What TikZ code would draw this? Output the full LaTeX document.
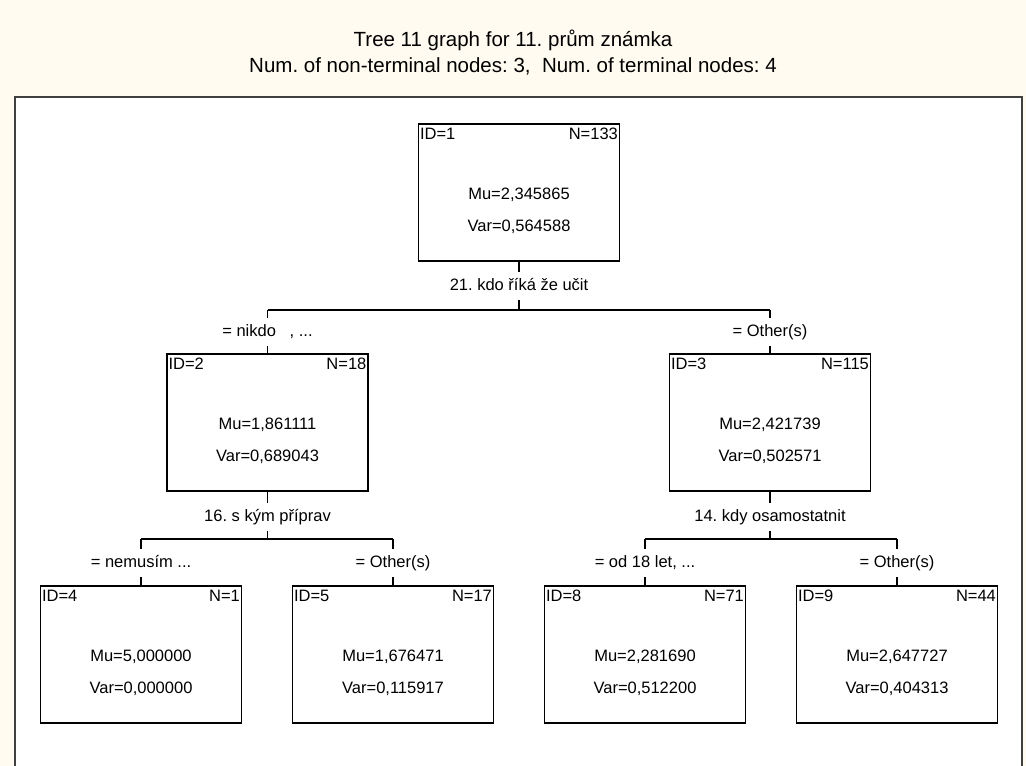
\documentclass[tikz,border=0pt]{standalone}
\usepackage{fontspec}
\setmainfont{Liberation Sans}
\usetikzlibrary{calc,positioning}
\definecolor{cream}{RGB}{255,251,240}
\definecolor{framegray}{RGB}{64,64,64}
\frenchspacing

\begin{document}
\begin{tikzpicture}[
x=1pt, y=-1pt,
box/.style   = {draw, line width=1.2pt, minimum width=201pt,
                minimum height=137pt, inner sep=0pt},
txt/.style   = {font=\fontsize{16.5}{19}\selectfont, inner sep=0pt,
                text height=12pt, text depth=3.5pt},
split/.style = {font=\fontsize{16.5}{19}\selectfont,
                text height=12pt, text depth=3.5pt,
                inner xsep=2pt, inner ysep=6pt},
link/.style  = {draw, line width=1.2pt},
title/.style = {font=\fontsize{20.5}{24}\selectfont, inner sep=0pt},
                    ]
\clip (0,0) rectangle (1026,766);
\fill[cream] (0,0) rectangle (1026,766);
\fill[white] (15,97) rectangle (1022,766);
\draw[framegray, line width=2pt] (15,780) -- (15,97) -- (1022,97) -- (1022,780);

\node[title] (t1) at (513,40) {Tree 11 graph for 11. prům známka};
\node[title] (t2) at (513,66) {Num. of non-terminal nodes: 3,\ \ Num. of terminal nodes: 4};

% boxes
\node[box] (n1) at (519,192.5) {};
\node[box] (n2) at (267.5,422.5) {};
\node[box] (n3) at (770,422.5) {};
\node[box] (n4) at (141,654.5) {};
\node[box] (n5) at (393,654.5) {};
\node[box] (n8) at (645,654.5) {};
\node[box] (n9) at (897,654.5) {};

% box texts
\node[txt,below right=3.5pt and 2pt of n1.north west] (n1id) {ID=1};
\node[txt,below left=3.5pt and 2pt of n1.north east]  (n1n)  {N=133};
\node[txt] (n1mu)  at ($(n1.north)+(0,72)$)  {Mu=2,345865};
\node[txt] (n1var) at ($(n1.north)+(0,104)$) {Var=0,564588};

\node[txt,below right=3.5pt and 2pt of n2.north west] (n2id) {ID=2};
\node[txt,below left=3.5pt and 2pt of n2.north east]  (n2n)  {N=18};
\node[txt] (n2mu)  at ($(n2.north)+(0,72)$)  {Mu=1,861111};
\node[txt] (n2var) at ($(n2.north)+(0,104)$) {Var=0,689043};

\node[txt,below right=3.5pt and 2pt of n3.north west] (n3id) {ID=3};
\node[txt,below left=3.5pt and 2pt of n3.north east]  (n3n)  {N=115};
\node[txt] (n3mu)  at ($(n3.north)+(0,72)$)  {Mu=2,421739};
\node[txt] (n3var) at ($(n3.north)+(0,104)$) {Var=0,502571};

\node[txt,below right=3.5pt and 2pt of n4.north west] (n4id) {ID=4};
\node[txt,below left=3.5pt and 2pt of n4.north east]  (n4n)  {N=1};
\node[txt] (n4mu)  at ($(n4.north)+(0,72)$)  {Mu=5,000000};
\node[txt] (n4var) at ($(n4.north)+(0,104)$) {Var=0,000000};

\node[txt,below right=3.5pt and 2pt of n5.north west] (n5id) {ID=5};
\node[txt,below left=3.5pt and 2pt of n5.north east]  (n5n)  {N=17};
\node[txt] (n5mu)  at ($(n5.north)+(0,72)$)  {Mu=1,676471};
\node[txt] (n5var) at ($(n5.north)+(0,104)$) {Var=0,115917};

\node[txt,below right=3.5pt and 2pt of n8.north west] (n8id) {ID=8};
\node[txt,below left=3.5pt and 2pt of n8.north east]  (n8n)  {N=71};
\node[txt] (n8mu)  at ($(n8.north)+(0,72)$)  {Mu=2,281690};
\node[txt] (n8var) at ($(n8.north)+(0,104)$) {Var=0,512200};

\node[txt,below right=3.5pt and 2pt of n9.north west] (n9id) {ID=9};
\node[txt,below left=3.5pt and 2pt of n9.north east]  (n9n)  {N=44};
\node[txt] (n9mu)  at ($(n9.north)+(0,72)$)  {Mu=2,647727};
\node[txt] (n9var) at ($(n9.north)+(0,104)$) {Var=0,404313};

% split variables
\node[split] (s1) at (519,286) {21. kdo říká že učit};
\node[split] (s2) at (267.5,517) {16. s kým příprav};
\node[split] (s3) at (770,517) {14. kdy osamostatnit};

% branch conditions
\node[split] (c2) at (267.5,332) {= nikdo\ \ \ , ...};
\node[split] (c3) at (770,332)   {= Other(s)};
\node[split] (c4) at (141,563)   {= nemusím ...};
\node[split] (c5) at (393,563)   {= Other(s)};
\node[split] (c8) at (645,563)   {= od 18 let, ...};
\node[split] (c9) at (897,563)   {= Other(s)};

\coordinate (h1) at (519,310);
\coordinate (h2) at (267.5,539);
\coordinate (h3) at (770,539);

\draw[link] (n1) -- (s1);
\draw[link] (s1) -- (h1);
\draw[link] (c2 |- h1) -- (c3 |- h1);
\draw[link] (c2 |- h1) -- (c2);
\draw[link] (c3 |- h1) -- (c3);
\draw[link] (c2) -- (n2);
\draw[link] (c3) -- (n3);

\draw[link] (n2) -- (s2);
\draw[link] (s2) -- (h2);
\draw[link] (c4 |- h2) -- (c5 |- h2);
\draw[link] (c4 |- h2) -- (c4);
\draw[link] (c5 |- h2) -- (c5);
\draw[link] (c4) -- (n4);
\draw[link] (c5) -- (n5);

\draw[link] (n3) -- (s3);
\draw[link] (s3) -- (h3);
\draw[link] (c8 |- h3) -- (c9 |- h3);
\draw[link] (c8 |- h3) -- (c8);
\draw[link] (c9 |- h3) -- (c9);
\draw[link] (c8) -- (n8);
\draw[link] (c9) -- (n9);
\end{tikzpicture}
\end{document}
